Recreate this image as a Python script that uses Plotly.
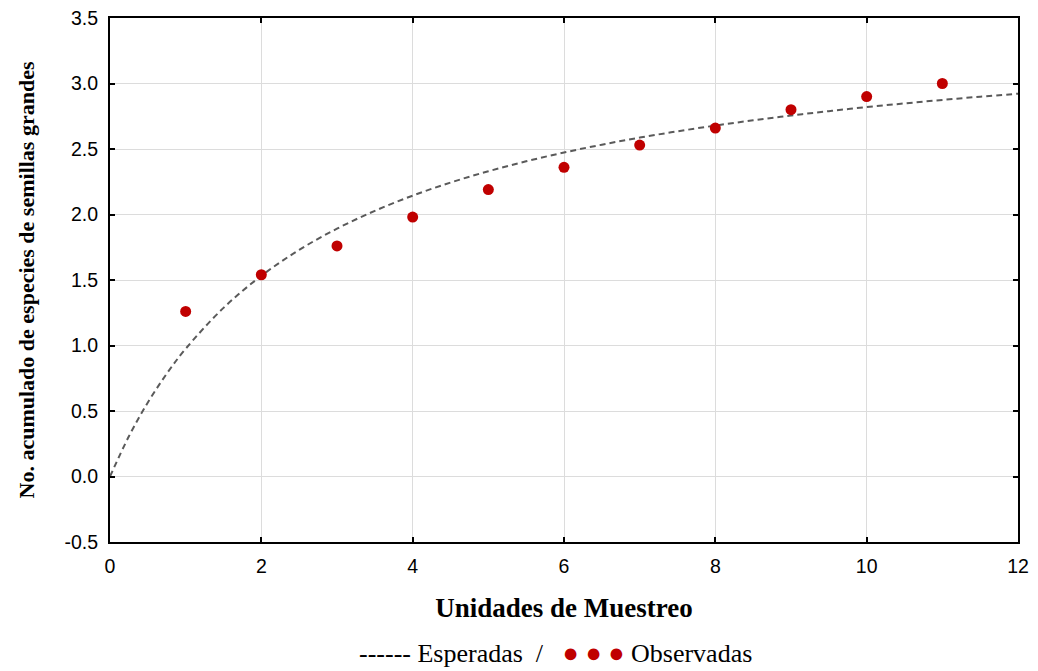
import plotly.graph_objects as go

obs_x = [1, 2, 3, 4, 5, 6, 7, 8, 9, 10, 11]
obs_y = [1.26, 1.54, 1.76, 1.98, 2.19, 2.36, 2.53, 2.66, 2.80, 2.90, 3.00]

exp_x = [0, 0.25, 0.5, 0.75, 1, 1.5, 2, 2.5, 3, 3.5, 4, 4.5, 5, 5.5, 6, 6.5,
         7, 7.5, 8, 8.5, 9, 9.5, 10, 10.5, 11, 11.5, 12]
exp_y = [0.0, 0.307, 0.565, 0.785, 0.975, 1.287, 1.532, 1.730, 1.892, 2.028,
         2.144, 2.244, 2.330, 2.406, 2.473, 2.533, 2.587, 2.635, 2.679, 2.719,
         2.756, 2.789, 2.820, 2.848, 2.875, 2.899, 2.922]

x_ticks = [0, 2, 4, 6, 8, 10, 12]
y_ticks = [-0.5, 0.0, 0.5, 1.0, 1.5, 2.0, 2.5, 3.0, 3.5]

fig = go.Figure()
fig.add_trace(go.Scatter(x=exp_x, y=exp_y, mode="lines", line_shape="spline",
                         line=dict(color="#5a5a5a", width=2, dash="6px,4px"),
                         showlegend=False, cliponaxis=False))
fig.add_trace(go.Scatter(x=obs_x, y=obs_y, mode="markers",
                         marker=dict(color="#c00000", size=11),
                         showlegend=False))

axis_common = dict(showline=True, linecolor="black", linewidth=2, mirror="ticks",
                   ticks="inside", ticklen=5, tickwidth=2, tickcolor="black",
                   showgrid=True, gridcolor="#dcdcdc", gridwidth=1, zeroline=False,
                   ticklabelstandoff=6, automargin=False,
                   tickfont=dict(family="Liberation Sans, Arial", size=19.5, color="black"))

fig.update_xaxes(range=[0, 12], tickvals=x_ticks,
                 ticktext=[str(v) for v in x_ticks],
                 title=dict(text="<b>Unidades de Muestreo</b>",
                            font=dict(family="Liberation Serif, Times New Roman", size=27, color="black"),
                            standoff=22),
                 **axis_common)
fig.update_yaxes(range=[-0.5, 3.5], tickvals=y_ticks,
                 ticktext=[f"{v:.1f}" for v in y_ticks],
                 title=dict(text="<b>No. acumulado de especies de semillas grandes</b>",
                            font=dict(family="Liberation Serif, Times New Roman", size=22, color="black"),
                            standoff=24),
                 **axis_common)

dot = "<span style='color:#c00000;font-size:27px'>●</span>"
fig.add_annotation(
    xref="paper", yref="paper", x=0.491, y=-0.212, xanchor="center", yanchor="middle",
    showarrow=False,
    text=f"------ Esperadas  /   {dot} {dot} {dot} Observadas",
    font=dict(family="Liberation Serif, Times New Roman", size=26, color="black"))

fig.update_layout(width=1038, height=671,
                  margin=dict(l=110, r=20, t=18, b=129),
                  plot_bgcolor="white", paper_bgcolor="white")

fig.write_html("out.html", config={"displayModeBar": False},
               post_script="document.body.style.margin='0px';document.body.style.padding='0px';")
